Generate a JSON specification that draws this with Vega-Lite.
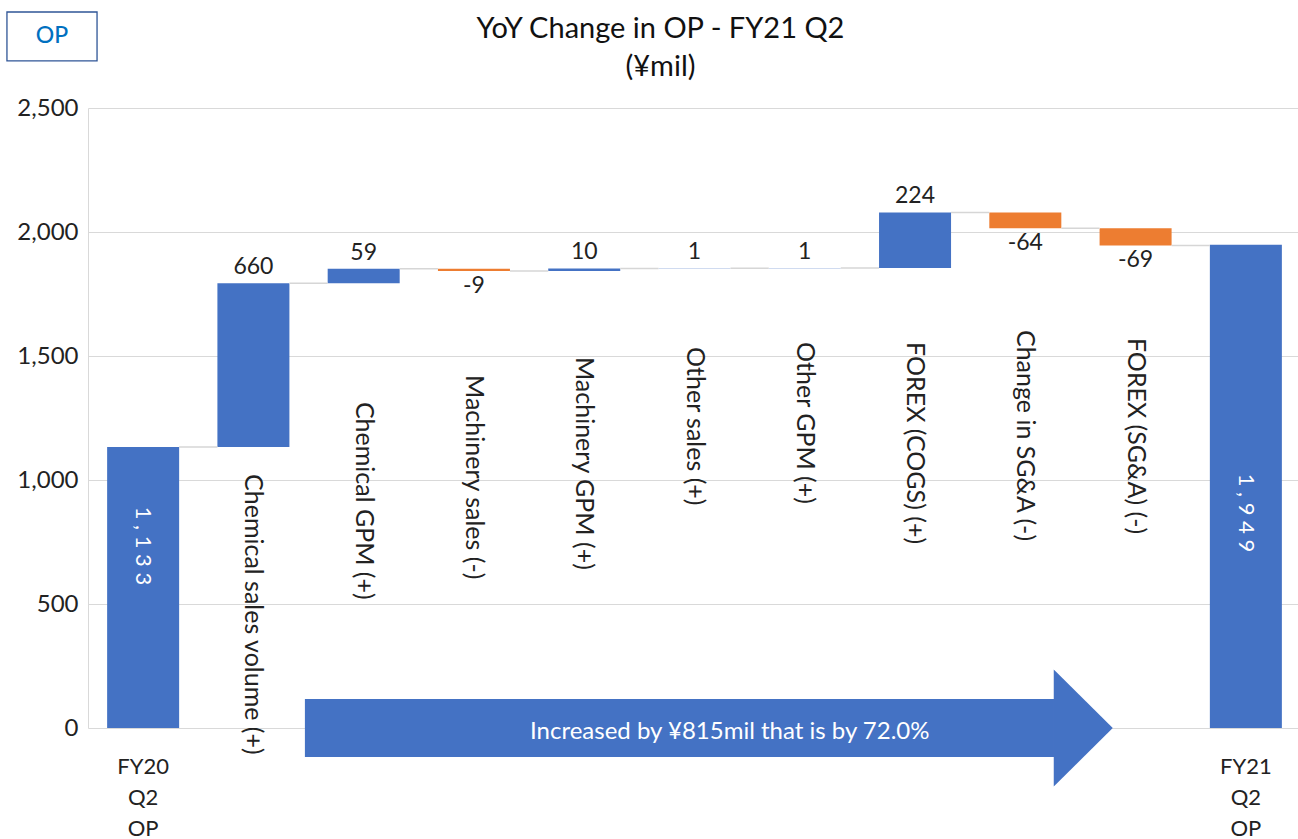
{
  "$schema": "https://vega.github.io/schema/vega-lite/v6.json",
  "autosize": {"type": "none"},
  "width": 1213,
  "height": 620,
  "padding": {"left": 88, "top": 108, "right": 0, "bottom": 111},
  "background": "white",
  "config": {"font": "Lato", "view": {"stroke": null}},
  "title": {
    "text": ["YoY Change in OP - FY21 Q2", "(¥mil)"],
    "fontSize": 29,
    "fontWeight": "normal",
    "lineHeight": 38,
    "color": "#111111",
    "frame": "group",
    "anchor": "middle",
    "baseline": "bottom",
    "dx": -34,
    "offset": 0,
    "dy": 100
  },
  "datasets": {
    "bars": [
      {"cat": "FY20 Q2 OP", "start": 0, "end": 1133, "kind": "total", "label": "1,133", "next": "Chemical sales volume (+)"},
      {"cat": "Chemical sales volume (+)", "start": 1133, "end": 1793, "kind": "inc", "label": "660", "next": "Chemical GPM (+)"},
      {"cat": "Chemical GPM (+)", "start": 1793, "end": 1852, "kind": "inc", "label": "59", "next": "Machinery sales (-)"},
      {"cat": "Machinery sales (-)", "start": 1852, "end": 1843, "kind": "dec", "label": "-9", "next": "Machinery GPM (+)"},
      {"cat": "Machinery GPM (+)", "start": 1843, "end": 1853, "kind": "inc", "label": "10", "next": "Other sales (+)"},
      {"cat": "Other sales (+)", "start": 1853, "end": 1854, "kind": "inc", "label": "1", "next": "Other GPM (+)"},
      {"cat": "Other GPM (+)", "start": 1854, "end": 1855, "kind": "inc", "label": "1", "next": "FOREX (COGS) (+)"},
      {"cat": "FOREX (COGS) (+)", "start": 1855, "end": 2079, "kind": "inc", "label": "224", "next": "Change in SG&A (-)"},
      {"cat": "Change in SG&A (-)", "start": 2079, "end": 2015, "kind": "dec", "label": "-64", "next": "FOREX (SG&A) (-)"},
      {"cat": "FOREX (SG&A) (-)", "start": 2015, "end": 1946, "kind": "dec", "label": "-69", "next": "FY21 Q2 OP"},
      {"cat": "FY21 Q2 OP", "start": 0, "end": 1949, "kind": "total", "label": "1,949", "next": null}
    ],
    "notes": [
      {"cat": "FY20 Q2 OP", "text": "1 , 1 3 3", "at": 734, "role": "total"},
      {"cat": "FY21 Q2 OP", "text": "1 , 9 4 9", "at": 867, "role": "total"},
      {"cat": "Chemical sales volume (+)", "text": "Chemical sales volume (+)", "at": 1024, "role": "category"},
      {"cat": "Chemical GPM (+)", "text": "Chemical GPM (+)", "at": 1315, "role": "category"},
      {"cat": "Machinery sales (-)", "text": "Machinery sales (-)", "at": 1423, "role": "category"},
      {"cat": "Machinery GPM (+)", "text": "Machinery GPM (+)", "at": 1496, "role": "category"},
      {"cat": "Other sales (+)", "text": "Other sales (+)", "at": 1536, "role": "category"},
      {"cat": "Other GPM (+)", "text": "Other GPM (+)", "at": 1556, "role": "category"},
      {"cat": "FOREX (COGS) (+)", "text": "FOREX (COGS) (+)", "at": 1556, "role": "category"},
      {"cat": "Change in SG&A (-)", "text": "Change in SG&A (-)", "at": 1605, "role": "category"},
      {"cat": "FOREX (SG&A) (-)", "text": "FOREX (SG&A) (-)", "at": 1573, "role": "category"}
    ],
    "arrow": [
      {"part": "body", "ax": 1.967, "top": 117, "bottom": -117},
      {"part": "body", "ax": 8.76, "top": 117, "bottom": -117},
      {"part": "head", "ax": 8.758, "top": 236, "bottom": -236},
      {"part": "head", "ax": 9.293, "top": 0, "bottom": 0}
    ],
    "callout": [{"ax": 5.82, "y": -16, "text": "Increased by ¥815mil that is by 72.0%"}],
    "opbox": [{"x1": -0.735, "x2": 0.082, "y1": 2690, "y2": 2887, "cx": -0.327, "cy": 2790, "text": "OP"}]
  },
  "layer": [
    {
      "layer": [
        {
          "data": {"name": "bars"},
          "mark": {"type": "bar"},
          "encoding": {
            "x": {
              "field": "cat", "type": "nominal", "title": null,
              "scale": {"domain": ["FY20 Q2 OP", "Chemical sales volume (+)", "Chemical GPM (+)", "Machinery sales (-)", "Machinery GPM (+)", "Other sales (+)", "Other GPM (+)", "FOREX (COGS) (+)", "Change in SG&A (-)", "FOREX (SG&A) (-)", "FY21 Q2 OP"], "paddingInner": 0.347, "paddingOuter": 0.1735},
              "axis": {
                "labelExpr": "datum.value == 'FY20 Q2 OP' || datum.value == 'FY21 Q2 OP' ? split(datum.value, ' ') : ''",
                "labelAngle": 0, "labelFontSize": 22, "labelLineHeight": 31, "labelPadding": 28,
                "labelColor": "#222222", "ticks": false, "domain": false, "grid": false, "labelOverlap": false
              }
            },
            "y": {
              "field": "start", "type": "quantitative", "title": null,
              "scale": {"domain": [0, 2500], "nice": false, "zero": false},
              "axis": {
                "values": [0, 500, 1000, 1500, 2000, 2500], "format": ",d", "labelFontSize": 24,
                "labelColor": "#222222", "ticks": false, "domainColor": "#d9d9d9", "gridColor": "#d9d9d9",
                "labelPadding": 10, "grid": true
              }
            },
            "y2": {"field": "end"},
            "color": {
              "field": "kind", "type": "nominal", "legend": null,
              "scale": {"domain": ["total", "inc", "dec"], "range": ["#4472C4", "#4472C4", "#ED7D31"]}
            }
          }
        },
        {
          "data": {"name": "bars"},
          "transform": [{"filter": "datum.next != null"}],
          "mark": {"type": "rule", "color": "#d6d6d6", "strokeWidth": 1.5},
          "encoding": {
            "x": {"field": "cat", "type": "nominal", "title": null, "bandPosition": 1},
            "x2": {"field": "next", "bandPosition": 0},
            "y": {"field": "end", "type": "quantitative", "title": null, "scale": {"domain": [0, 2500], "nice": false, "zero": false}}
          }
        },
        {
          "data": {"name": "bars"},
          "transform": [{"filter": "datum.kind == 'inc'"}],
          "mark": {"type": "text", "baseline": "bottom", "dy": -4, "fontSize": 23, "color": "#222222"},
          "encoding": {
            "x": {"field": "cat", "type": "nominal", "title": null},
            "y": {"field": "end", "type": "quantitative", "title": null, "scale": {"domain": [0, 2500], "nice": false, "zero": false}},
            "text": {"field": "label"}
          }
        },
        {
          "data": {"name": "bars"},
          "transform": [{"filter": "datum.kind == 'dec'"}],
          "mark": {"type": "text", "baseline": "top", "dy": 4, "fontSize": 23, "color": "#222222"},
          "encoding": {
            "x": {"field": "cat", "type": "nominal", "title": null},
            "y": {"field": "end", "type": "quantitative", "title": null, "scale": {"domain": [0, 2500], "nice": false, "zero": false}},
            "text": {"field": "label"}
          }
        },
        {
          "data": {"name": "notes"},
          "transform": [{"filter": "datum.role == 'category'"}],
          "mark": {"type": "text", "angle": 90, "align": "left", "baseline": "middle", "fontSize": 25, "color": "#222222"},
          "encoding": {
            "x": {"field": "cat", "type": "nominal", "title": null},
            "y": {"field": "at", "type": "quantitative", "title": null, "scale": {"domain": [0, 2500], "nice": false, "zero": false}},
            "text": {"field": "text"}
          }
        },
        {
          "data": {"name": "notes"},
          "transform": [{"filter": "datum.role == 'total'"}],
          "mark": {"type": "text", "angle": 90, "align": "center", "baseline": "middle", "fontSize": 22, "color": "white"},
          "encoding": {
            "x": {"field": "cat", "type": "nominal", "title": null},
            "y": {"field": "at", "type": "quantitative", "title": null, "scale": {"domain": [0, 2500], "nice": false, "zero": false}},
            "text": {"field": "text"}
          }
        }
      ]
    },
    {
      "layer": [
        {
          "data": {"name": "arrow"},
          "mark": {"type": "area", "color": "#4472C4"},
          "encoding": {
            "x": {"field": "ax", "type": "quantitative", "axis": null, "scale": {"domain": [0, 11], "nice": false, "zero": false}},
            "y": {"field": "top", "type": "quantitative", "title": null, "scale": {"domain": [0, 2500], "nice": false, "zero": false}},
            "y2": {"field": "bottom"},
            "detail": {"field": "part"}
          }
        },
        {
          "data": {"name": "callout"},
          "mark": {"type": "text", "align": "center", "baseline": "middle", "fontSize": 24, "color": "white"},
          "encoding": {
            "x": {"field": "ax", "type": "quantitative", "axis": null, "scale": {"domain": [0, 11], "nice": false, "zero": false}},
            "y": {"field": "y", "type": "quantitative", "title": null, "scale": {"domain": [0, 2500], "nice": false, "zero": false}},
            "text": {"field": "text"}
          }
        },
        {
          "data": {"name": "opbox"},
          "mark": {"type": "rect", "fill": "white", "stroke": "#2F5597", "strokeWidth": 1.3},
          "encoding": {
            "x": {"field": "x1", "type": "quantitative", "axis": null, "scale": {"domain": [0, 11], "nice": false, "zero": false}},
            "x2": {"field": "x2"},
            "y": {"field": "y1", "type": "quantitative", "title": null, "scale": {"domain": [0, 2500], "nice": false, "zero": false}},
            "y2": {"field": "y2"}
          }
        },
        {
          "data": {"name": "opbox"},
          "mark": {"type": "text", "align": "center", "baseline": "middle", "fontSize": 23, "fontWeight": 500, "color": "#0070C0"},
          "encoding": {
            "x": {"field": "cx", "type": "quantitative", "axis": null, "scale": {"domain": [0, 11], "nice": false, "zero": false}},
            "y": {"field": "cy", "type": "quantitative", "title": null, "scale": {"domain": [0, 2500], "nice": false, "zero": false}},
            "text": {"field": "text"}
          }
        }
      ]
    }
  ],
  "resolve": {"scale": {"x": "independent"}}
}
